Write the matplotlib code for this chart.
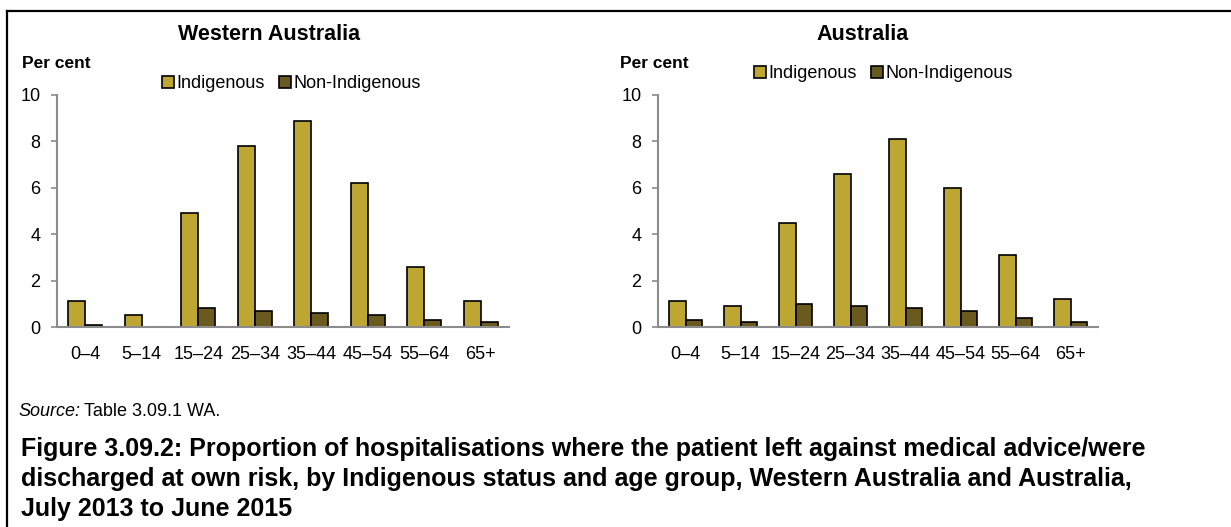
import matplotlib.pyplot as plt
import numpy as np
from matplotlib.lines import Line2D

plt.rcParams['font.family'] = ['Liberation Sans', 'DejaVu Sans']

age_groups = ['0–4', '5–14', '15–24', '25–34', '35–44', '45–54', '55–64', '65+']

# Western Australia
wa_indig = [1.1, 0.5, 4.9, 7.8, 8.9, 6.2, 2.6, 1.1]
wa_non = [0.1, 0.0, 0.8, 0.7, 0.6, 0.5, 0.3, 0.2]

# Australia
aus_indig = [1.1, 0.9, 4.5, 6.6, 8.1, 6.0, 3.1, 1.2]
aus_non = [0.3, 0.2, 1.0, 0.9, 0.8, 0.7, 0.4, 0.2]

col_indig = '#BDA632'
col_non = '#6B5A1E'
axis_col = '#8C8C8C'

W, H = 1231, 527
fig = plt.figure(figsize=(W / 100, H / 100), dpi=100)


def px(x, y):
    # pixel -> figure fraction (y measured from top)
    return x / W, 1 - y / H


def draw_panel(left, right, indig, non, title, title_x, percent_x, leg_x, leg_y):
    ax = fig.add_axes([left / W, 1 - 327 / H, (right - left) / W, 232 / H])
    x = np.arange(len(age_groups))
    bw = 0.3
    ax.bar(x - bw / 2, indig, bw, color=col_indig, edgecolor='black', linewidth=1.2,
           label='Indigenous', zorder=3)
    ax.bar(x + bw / 2, non, bw, color=col_non, edgecolor='black', linewidth=1.2,
           label='Non-Indigenous', zorder=3)
    ax.set_xlim(-0.5, len(age_groups) - 0.5)
    ax.set_ylim(0, 10)
    ax.set_yticks([0, 2, 4, 6, 8, 10])
    ax.set_xticks(x)
    ax.set_xticklabels(age_groups)
    for s in ['top', 'right']:
        ax.spines[s].set_visible(False)
    for s in ['left', 'bottom']:
        ax.spines[s].set_color(axis_col)
        ax.spines[s].set_linewidth(1.5)
    ax.tick_params(axis='y', length=4, width=1.2, color=axis_col, pad=8, labelsize=13)
    ax.tick_params(axis='x', length=0, pad=14, labelsize=13)
    ax.spines['bottom'].set_zorder(4)

    fig.text(*px(title_x, 35), title, ha='center', va='center',
             fontsize=15.5, fontweight='bold')
    fig.text(*px(percent_x, 63), 'Per cent', ha='left', va='center',
             fontsize=12.5, fontweight='bold')
    ax.legend(loc='center left', bbox_to_anchor=px(leg_x, leg_y),
              bbox_transform=fig.transFigure, ncol=2, frameon=False,
              fontsize=13, handlelength=0.65, handleheight=0.65,
              handletextpad=0.15, columnspacing=0.8, borderpad=0, borderaxespad=0)
    return ax


draw_panel(57, 509, wa_indig, wa_non, 'Western Australia', 269, 22, 162, 84)
draw_panel(658, 1098, aus_indig, aus_non, 'Australia', 863, 620, 754, 74)

# source line: italic "Source:" followed by the table reference
src = fig.text(*px(18, 411), 'Source:', ha='left', va='center', fontsize=13, style='italic')
bb = src.get_window_extent(renderer=fig.canvas.get_renderer())
fig.text((bb.x1 + 4) / W, 1 - 411 / H, 'Table 3.09.1 WA.', ha='left', va='center', fontsize=13)

caption = ['Figure 3.09.2: Proportion of hospitalisations where the patient left against medical advice/were',
           'discharged at own risk, by Indigenous status and age group, Western Australia and Australia,',
           'July 2013 to June 2015']
for i, line in enumerate(caption):
    fig.text(*px(21, 449 + 30 * i), line, ha='left', va='center', fontsize=18,
             fontweight='bold')

# frame lines (top and left)
fig.add_artist(Line2D([7 / W, 1], [1 - 11 / H, 1 - 11 / H], color='black', linewidth=1.6,
                      transform=fig.transFigure))
fig.add_artist(Line2D([7 / W, 7 / W], [1 - 11 / H, 0], color='black', linewidth=1.6,
                      transform=fig.transFigure))

fig.savefig('out.png', dpi=100)
